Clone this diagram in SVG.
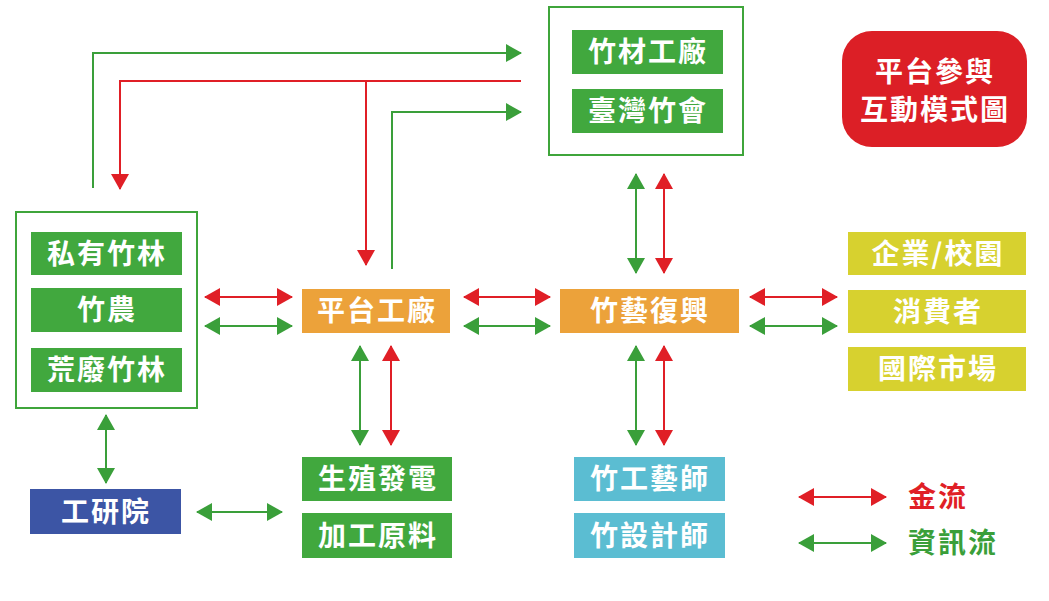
<svg xmlns="http://www.w3.org/2000/svg" width="1049" height="601" viewBox="0 0 1049 601">
<defs>
<marker id="ag" viewBox="0 0 16 18" refX="15" refY="9" markerWidth="16" markerHeight="18" markerUnits="userSpaceOnUse" orient="auto-start-reverse"><path d="M0,0 L16,9 L0,18 z" fill="#3a9f3a"/></marker>
<marker id="ar" viewBox="0 0 16 18" refX="15" refY="9" markerWidth="16" markerHeight="18" markerUnits="userSpaceOnUse" orient="auto-start-reverse"><path d="M0,0 L16,9 L0,18 z" fill="#e01f26"/></marker>
<style>
.t{font-family:"Noto Sans CJK TC","Noto Sans CJK SC",sans-serif;font-weight:bold;font-size:28px;fill:#fff;text-anchor:middle;letter-spacing:2px}
.frame{fill:none;stroke:#3fa53b;stroke-width:2}
.g{fill:#41a83e}.o{fill:#eca23a}.y{fill:#d7d12f}.b{fill:#3c55a5}.c{fill:#5bbdd2}
.lg{fill:none;stroke:#3a9f3a;stroke-width:2}
.lr{fill:none;stroke:#e01f26;stroke-width:2}
.gd{marker-start:url(#ag);marker-end:url(#ag)}
.rd{marker-start:url(#ar);marker-end:url(#ar)}
</style>
</defs>
<rect width="1049" height="601" fill="#fff"/>
<g id="connectors">
<path class="lg" d="M93,188 V53 H521" marker-end="url(#ag)"/>
<path class="lr" d="M521,81 H120 V189" marker-end="url(#ar)"/>
<path class="lr" d="M366,81 V265" marker-end="url(#ar)"/>
<path class="lg" d="M392,269 V112 H521" marker-end="url(#ag)"/>
<path class="lr rd" d="M205,297 H292"/>
<path class="lg gd" d="M205,326 H292"/>
<path class="lr rd" d="M464,297 H550"/>
<path class="lg gd" d="M464,326 H550"/>
<path class="lr rd" d="M750,297 H837"/>
<path class="lg gd" d="M750,326 H837"/>
<path class="lg gd" d="M636,174 V273"/>
<path class="lr rd" d="M664,174 V273"/>
<path class="lg gd" d="M360,346 V445"/>
<path class="lr rd" d="M391,346 V445"/>
<path class="lg gd" d="M636,346 V445"/>
<path class="lr rd" d="M664,346 V445"/>
<path class="lg gd" d="M106,415 V483"/>
<path class="lg gd" d="M197,512 H282"/>
</g>
<g id="group-top">
<rect class="frame" x="549" y="7" width="194" height="148"/>
<rect class="g" x="572" y="30" width="151" height="44"/>
<text class="t" x="648" y="62">竹材工廠</text>
<rect class="g" x="572" y="89" width="151" height="44"/>
<text class="t" x="648" y="121">臺灣竹會</text>
</g>
<g id="title">
<rect x="842" y="31" width="185" height="116" rx="30" fill="#dc1f26"/>
<text class="t" x="935" y="82">平台參與</text>
<text class="t" x="935" y="120">互動模式圖</text>
</g>
<g id="group-left">
<rect class="frame" x="16" y="212" width="181" height="196"/>
<rect class="g" x="31" y="232" width="151" height="43"/>
<text class="t" x="107" y="264">私有竹林</text>
<rect class="g" x="31" y="288" width="151" height="44"/>
<text class="t" x="107" y="320">竹農</text>
<rect class="g" x="31" y="348" width="151" height="44"/>
<text class="t" x="107" y="380">荒廢竹林</text>
</g>
<g id="platform">
<rect class="o" x="302" y="289" width="148" height="44"/>
<text class="t" x="377" y="321">平台工廠</text>
</g>
<g id="revival">
<rect class="o" x="560" y="289" width="179" height="44"/>
<text class="t" x="650" y="321">竹藝復興</text>
</g>
<g id="group-right">
<rect class="y" x="848" y="232" width="178" height="43"/>
<text class="t" x="938" y="264">企業/校園</text>
<rect class="y" x="848" y="290" width="178" height="43"/>
<text class="t" x="938" y="322">消費者</text>
<rect class="y" x="848" y="347" width="178" height="44"/>
<text class="t" x="938" y="379">國際市場</text>
</g>
<g id="itri">
<rect class="b" x="30" y="489" width="151" height="45"/>
<text class="t" x="106" y="522">工研院</text>
</g>
<g id="group-energy">
<rect class="g" x="302" y="457" width="150" height="44"/>
<text class="t" x="378" y="489">生殖發電</text>
<rect class="g" x="302" y="513" width="150" height="45"/>
<text class="t" x="378" y="546">加工原料</text>
</g>
<g id="group-artisan">
<rect class="c" x="574" y="457" width="151" height="44"/>
<text class="t" x="650" y="489">竹工藝師</text>
<rect class="c" x="574" y="513" width="151" height="45"/>
<text class="t" x="650" y="546">竹設計師</text>
</g>
<g id="legend">
<path class="lr rd" d="M799,497 H886"/>
<path class="lg gd" d="M799,543 H886"/>
<text class="t" x="908" y="507" style="text-anchor:start;fill:#e01f26">金流</text>
<text class="t" x="908" y="553" style="text-anchor:start;fill:#3a9f3a">資訊流</text>
</g>
</svg>
